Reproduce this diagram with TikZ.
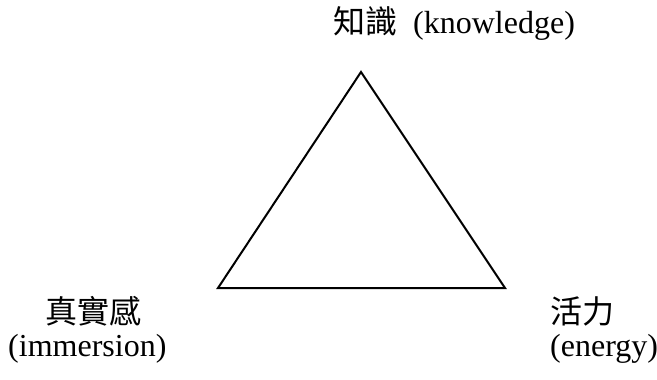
\documentclass[tikz,border=0pt]{standalone}
\usepackage{fontspec}
\setmainfont{Liberation Serif}
\newfontfamily\cjk{Noto Sans CJK TC}
\begin{document}
\begin{tikzpicture}[x=1pt,y=-1pt,
  lbl/.style={inner sep=0pt,anchor=base west,font=\fontsize{32}{36}\selectfont},
  tri/.style={draw=black,line width=2pt,line join=miter}]
\useasboundingbox (0,0) rectangle (657,380);
\coordinate (top) at (361,72);
\coordinate (left) at (218,288);
\coordinate (right) at (505,288);
\draw[tri] (top) -- (right) -- (left) -- cycle;
\node[lbl] (k1) at (333,34) {{\cjk 知識}};
\node[lbl] (k2) at (413,34) {(knowledge)};
\node[lbl] (i1) at (45,323) {{\cjk 真實感}};
\node[lbl] (i2) at (8,356) {(immersion)};
\node[lbl] (e1) at (550,323) {{\cjk 活力}};
\node[lbl] (e2) at (550,356) {(energy)};
\end{tikzpicture}
\end{document}
